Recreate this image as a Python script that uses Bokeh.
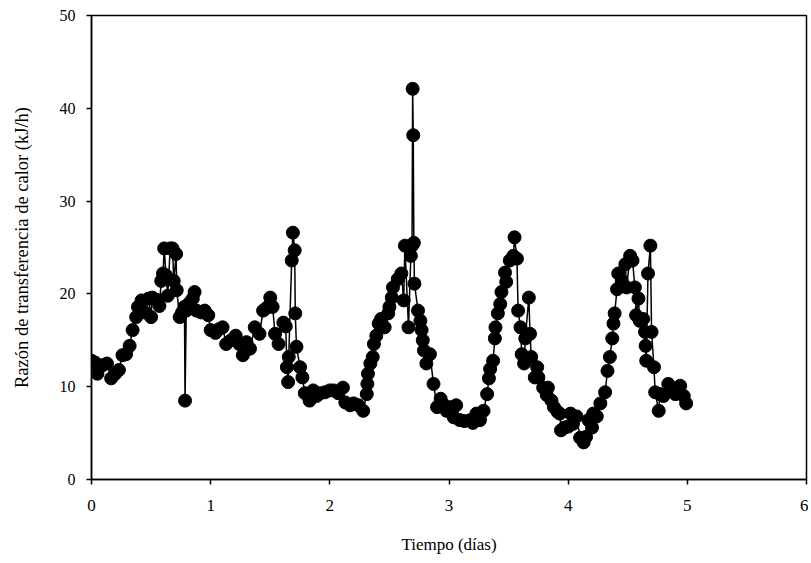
from bokeh.plotting import figure
from bokeh.models import Range1d, FixedTicker
from bokeh.embed import file_html
from bokeh.resources import INLINE

tiempo = [0.00, 0.03, 0.05, 0.09, 0.13, 0.165, 0.20, 0.23, 0.26, 0.29, 0.32, 0.345, 0.375, 0.39, 0.42,
          0.45, 0.48, 0.50, 0.51, 0.54, 0.57, 0.585, 0.60, 0.61, 0.625, 0.64, 0.66, 0.68, 0.69, 0.71,
          0.715, 0.74, 0.76, 0.78, 0.785, 0.795, 0.82, 0.85, 0.865, 0.88, 0.92, 0.95, 0.98, 1.00, 1.04,
          1.07, 1.10, 1.13, 1.17, 1.21, 1.24, 1.27, 1.30, 1.33, 1.37, 1.41, 1.44, 1.47, 1.50, 1.52,
          1.54, 1.57, 1.61, 1.63, 1.64, 1.65, 1.655, 1.68, 1.69, 1.705, 1.71, 1.72, 1.75, 1.77, 1.79,
          1.83, 1.86, 1.89, 1.92, 1.96, 2.00, 2.03, 2.07, 2.11, 2.13, 2.17, 2.20, 2.24, 2.28, 2.31,
          2.315, 2.32, 2.34, 2.36, 2.37, 2.39, 2.41, 2.43, 2.46, 2.49, 2.50, 2.52, 2.53, 2.57, 2.60,
          2.62, 2.63, 2.66, 2.68, 2.69, 2.695, 2.70, 2.705, 2.71, 2.74, 2.76, 2.77, 2.78, 2.79, 2.81,
          2.84, 2.87, 2.90, 2.93, 2.96, 2.98, 3.02, 3.04, 3.06, 3.09, 3.13, 3.18, 3.20, 3.23, 3.26,
          3.29, 3.32, 3.335, 3.345, 3.37, 3.385, 3.39, 3.41, 3.43, 3.44, 3.47, 3.48, 3.51, 3.54, 3.55,
          3.57, 3.58, 3.60, 3.61, 3.63, 3.64, 3.67, 3.68, 3.69, 3.72, 3.74, 3.75, 3.79, 3.82, 3.83,
          3.86, 3.88, 3.91, 3.93, 3.94, 3.97, 4.00, 4.02, 4.04, 4.07, 4.10, 4.13, 4.15, 4.17, 4.20,
          4.21, 4.24, 4.27, 4.31, 4.33, 4.35, 4.37, 4.38, 4.39, 4.41, 4.42, 4.45, 4.48, 4.49, 4.52,
          4.54, 4.56, 4.57, 4.59, 4.60, 4.63, 4.645, 4.65, 4.655, 4.67, 4.69, 4.70, 4.72, 4.73, 4.76,
          4.77, 4.80, 4.84, 4.87, 4.90, 4.94, 4.97, 4.99]

calor = [12.8, 12.6, 11.4, 12.3, 12.5, 10.9, 11.4, 11.8, 13.4, 13.5, 14.4, 16.1, 17.5, 18.6, 19.3,
         18.0, 19.5, 17.5, 19.6, 19.4, 18.7, 21.4, 22.2, 24.9, 22.0, 19.8, 24.9, 24.9, 21.4, 24.3,
         20.4, 17.5, 18.0, 18.6, 8.5, 18.2, 19.0, 19.5, 20.2, 18.2, 18.0, 18.2, 17.7, 16.1, 15.8,
         16.2, 16.4, 14.6, 15.0, 15.5, 14.6, 13.4, 14.8, 14.1, 16.4, 15.7, 18.2, 18.5, 19.6, 18.6,
         15.7, 14.6, 16.9, 16.5, 12.1, 10.5, 13.2, 23.6, 26.6, 24.7, 17.9, 14.3, 12.1, 11.0, 9.3,
         8.5, 9.6, 9.0, 9.3, 9.4, 9.6, 9.6, 9.3, 9.9, 8.3, 8.0, 8.2, 8.0, 7.4, 9.2,
         10.3, 11.4, 12.5, 13.2, 14.6, 15.5, 16.8, 17.3, 16.4, 17.9, 18.6, 19.6, 20.7, 21.6, 22.2,
         19.3, 25.2, 16.4, 24.1, 25.2, 42.1, 37.1, 25.5, 21.1, 18.2, 17.1, 16.1, 15.0, 13.9, 12.5,
         13.5, 10.3, 7.8, 8.7, 8.0, 7.4, 7.8, 6.7, 8.0, 6.4, 6.3, 6.4, 6.1, 7.1, 6.4,
         7.4, 9.2, 10.9, 11.9, 12.8, 15.2, 16.4, 17.9, 18.9, 20.2, 22.3, 21.3, 23.6, 24.1, 26.1,
         23.8, 18.2, 16.4, 13.5, 12.5, 15.2, 19.6, 15.7, 13.2, 11.0, 12.1, 11.0, 9.9, 9.1, 9.9,
         8.5, 7.8, 7.3, 7.1, 5.3, 5.6, 5.7, 7.1, 6.0, 6.8, 4.5, 4.0, 4.6, 6.4, 5.6,
         7.1, 6.8, 8.2, 9.4, 11.7, 13.2, 15.2, 16.8, 17.9, 20.5, 22.2, 21.4, 23.2, 20.7, 24.1,
         23.6, 20.7, 17.7, 19.5, 17.1, 17.3, 15.9, 14.4, 12.8, 22.2, 25.2, 15.9, 12.1, 9.4, 7.4,
         9.2, 9.0, 10.3, 9.6, 9.2, 10.1, 9.0, 8.2]

x_ticks = [0, 1, 2, 3, 4, 5, 6]
y_ticks = [0, 10, 20, 30, 40, 50]

FONT = "Liberation Serif"

p = figure(width=808, height=563, output_backend="svg", toolbar_location=None,
           x_range=Range1d(0, 6), y_range=Range1d(0, 50),
           min_border_left=91, min_border_right=2, min_border_top=15, min_border_bottom=84)

p.xgrid.visible = False
p.ygrid.visible = False
p.outline_line_color = "black"
p.outline_line_width = 1.5
p.background_fill_color = "white"
p.border_fill_color = "white"

p.line(tiempo, calor, line_color="black", line_width=1.5)
p.scatter(tiempo, calor, size=13, fill_color="black", line_color="black")

for ax in (p.xaxis[0], p.yaxis[0]):
    ax.axis_line_width = 1.5
    ax.axis_line_color = "black"
    ax.major_tick_line_width = 1.5
    ax.major_tick_in = 0
    ax.major_tick_out = 5
    ax.minor_tick_line_color = None
    ax.major_label_text_font = FONT
    ax.major_label_text_color = "black"
    ax.axis_label_text_font = FONT
    ax.axis_label_text_font_style = "normal"
    ax.axis_label_text_color = "black"

p.xaxis[0].ticker = FixedTicker(ticks=x_ticks)
p.yaxis[0].ticker = FixedTicker(ticks=y_ticks)
p.xaxis[0].axis_label = "Tiempo (días)"
p.yaxis[0].axis_label = "Razón de transferencia de calor (kJ/h)"
p.xaxis[0].major_label_text_font_size = "17px"
p.yaxis[0].major_label_text_font_size = "16px"
p.xaxis[0].axis_label_text_font_size = "17px"
p.yaxis[0].axis_label_text_font_size = "18.5px"
p.xaxis[0].major_label_standoff = 15
p.yaxis[0].major_label_standoff = 11
p.xaxis[0].axis_label_standoff = 21
p.yaxis[0].axis_label_standoff = 25

open("out.html", "w").write(file_html(p, INLINE))
